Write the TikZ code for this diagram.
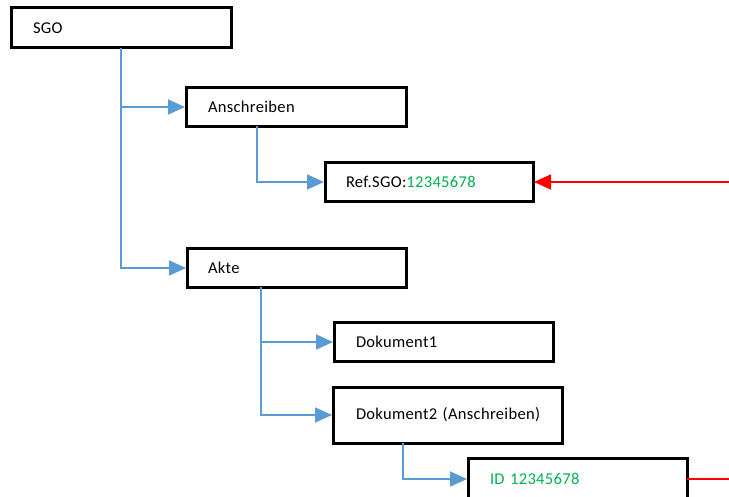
\documentclass[tikz,border=0pt]{standalone}
\usepackage{fontspec}
\setmainfont{Carlito}
\usetikzlibrary{arrows.meta}
\definecolor{conblue}{HTML}{5B9BD5}
\definecolor{idgreen}{HTML}{00B050}
\tikzset{
  box/.style={draw=black, line width=3pt, outer sep=0pt, rectangle, align=left, inner xsep=22pt, inner ysep=0pt, font=\fontsize{16.5}{18}\selectfont\addfontfeature{LetterSpace=2}},
  conn/.style={draw=conblue, line width=1.8pt, -{Triangle[length=17pt,width=15pt]}, shorten >=1pt},
  redconn/.style={draw=red, line width=1.6pt},
}
\begin{document}
\begin{tikzpicture}[x=1pt,y=-1pt]
\useasboundingbox (0,0) rectangle (729,497);
\node[box, text width=176pt, minimum height=40pt] (sgo) at (121,28) {SGO};
\node[box, text width=176pt, minimum height=39pt] (ansch) at (296,107) {Anschreiben};
\node[box, text width=166pt, minimum height=39pt, inner xsep=21pt] (ref) at (429,182) {\mbox{Ref.SGO:\textcolor{idgreen}{12345678}}};
\node[box, text width=177pt, minimum height=39pt, inner xsep=21pt] (akte) at (296.5,268) {Akte};
\node[box, text width=175pt, minimum height=39pt] (dok1) at (443.5,342) {Dokument1};
\node[box, text width=183pt, minimum height=56pt, inner xsep=23pt] (dok2) at (447.5,415) {\mbox{Dokument2 (Anschreiben)}};
\node[box, text width=175pt, minimum height=42pt] (id) at (577.5,479) {\mbox{\textcolor{idgreen}{ID 12345678}}};
\coordinate (redin) at (729,182);
\coordinate (redout) at (729,479);
\draw[conn] (sgo.south) |- (ansch.west);
\draw[conn] (sgo.south) |- (akte.west);
\draw[conn] ([xshift=71pt]ansch.south west) |- (ref.west);
\draw[conn] ([xshift=74pt]akte.south west) |- (dok1.west);
\draw[conn] ([xshift=74pt]akte.south west) |- (dok2.west);
\draw[conn] ([xshift=70pt]dok2.south west) |- (id.west);
\draw[redconn, -{Triangle[length=17pt,width=15pt]}, shorten >=1pt] (redin) -- (ref.east);
\draw[redconn] (id.east) -- (redout);
\end{tikzpicture}
\end{document}
